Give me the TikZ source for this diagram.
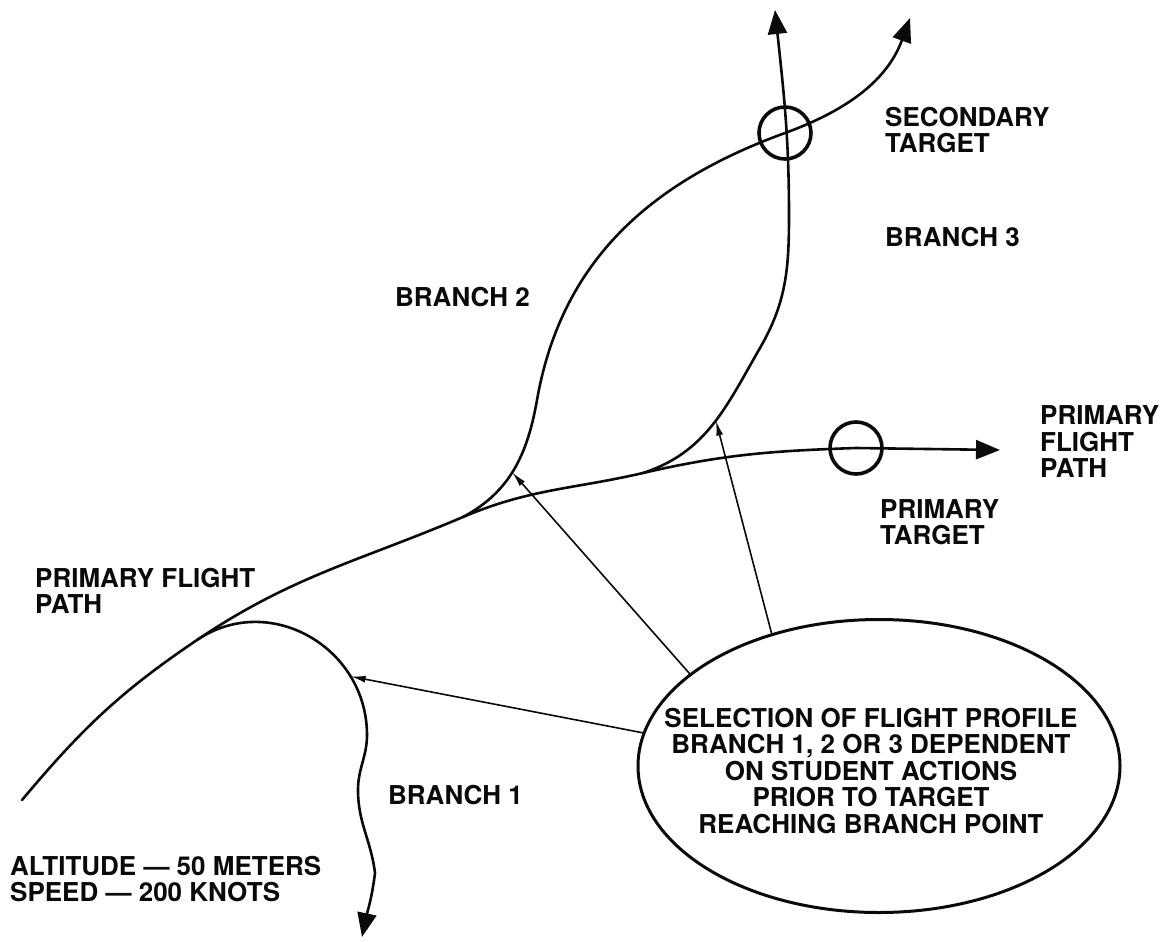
\documentclass[tikz,border=0pt]{standalone}
\usepackage{fontspec}
\setmainfont{TeX Gyre Heros}
\usetikzlibrary{arrows.meta,shapes.geometric}
\definecolor{fpInk}{HTML}{0A0A0A}
\tikzset{
 chart/.style={line cap=round,line join=round,text=fpInk,
   font=\fontsize{26}{26.5}\selectfont\bfseries},
 route/.style={draw=fpInk,line width=2.6pt},
 routeEnd/.style={route,-{Triangle[length=24pt,width=19pt]}},
 target/.style={circle,draw=fpInk,line width=3.6pt,inner sep=0pt,minimum size=52pt},
 pointer/.style={draw=fpInk,line width=1.6pt,-{Latex[length=15pt,width=7pt]}},
 tag/.style={anchor=west,align=left,inner sep=0pt},
 selector/.style={ellipse,draw=fpInk,line width=3pt,inner sep=0pt,minimum width=482pt,minimum height=293pt},
 seltext/.style={align=center,inner sep=0pt}
}

\begin{document}
\begin{tikzpicture}[chart,x=1pt,y=1pt]
 \path[use as bounding box,fill=white] (0,0) rectangle (1165,-942);
 \coordinate (pfpStart) at (22,-800);
 \coordinate (b1) at (197,-640);
 \coordinate (b2) at (463,-517);
 \coordinate (b3) at (643,-473);
 \coordinate (pfpEnd) at (1000,-450);
 \coordinate (l1side) at (367,-735);
 \coordinate (l1mid) at (358,-790);
 \coordinate (l1low) at (375,-873);
 \coordinate (b1end) at (362,-937);
 \coordinate (l2up) at (537,-400);
 \coordinate (b2end) at (910,-18);
 \coordinate (l3up) at (760,-348);
 \coordinate (l3top) at (789,-215);
 \coordinate (b3end) at (775,-10);
 \node[target] (pritgt) at (856,-448) {};
 \node[target] (sectgt) at (785,-133) {};
 \draw[routeEnd] (pfpStart) to[out=50,in=-146] (b1) to[out=34,in=-157] (b2)
   to[out=23,in=-167] (b3) to[out=13,in=-178] (pritgt.center) -- (pfpEnd);
 \draw[routeEnd] (b1) to[out=34,in=90,looseness=1.15] coordinate[pos=.75] (b1hit) (l1side)
   to[out=-90,in=90] (l1mid) to[out=-90,in=97] (l1low) to[out=-97,in=78] (b1end);
 \draw[routeEnd] (b2) to[out=28,in=-100] coordinate[pos=.47] (b2hit) (l2up)
   to[out=80,in=-160] (sectgt.center) to[out=20,in=-110] (b2end);
 \draw[routeEnd] (b3) to[out=18,in=-120] coordinate[pos=.53] (b3hit) (l3up)
   to[out=60,in=-90] (l3top) to[out=90,in=-84] (b3end);
 \node[selector] (sel) at (879,-766) {};
 \node[seltext] (seltxt) at (871,-771) {SELECTION OF FLIGHT PROFILE\\BRANCH 1, 2 OR 3 DEPENDENT\\ON STUDENT ACTIONS\\PRIOR TO TARGET\\REACHING BRANCH POINT};
 \draw[pointer] (sel.172) -- (b1hit);
 \draw[pointer] (sel.154) -- (b2hit);
 \draw[pointer] (sel.129) -- (b3hit);
 \node[tag] (sectag) at (885,-130) {SECONDARY\\TARGET};
 \node[tag] (br3tag) at (885,-237) {BRANCH 3};
 \node[tag] (br2tag) at (395,-297) {BRANCH 2};
 \node[tag] (pfptagR) at (1040,-442) {PRIMARY\\FLIGHT\\PATH};
 \node[tag] (pritag) at (880,-522) {PRIMARY\\TARGET};
 \node[tag] (pfptagL) at (35,-591) {PRIMARY FLIGHT\\PATH};
 \node[tag] (br1tag) at (388,-795) {BRANCH 1};
 \node[tag] (alttag) at (10,-879) {ALTITUDE \textemdash\ 50 METERS\\SPEED \textemdash\ 200 KNOTS};
\end{tikzpicture}
\end{document}
